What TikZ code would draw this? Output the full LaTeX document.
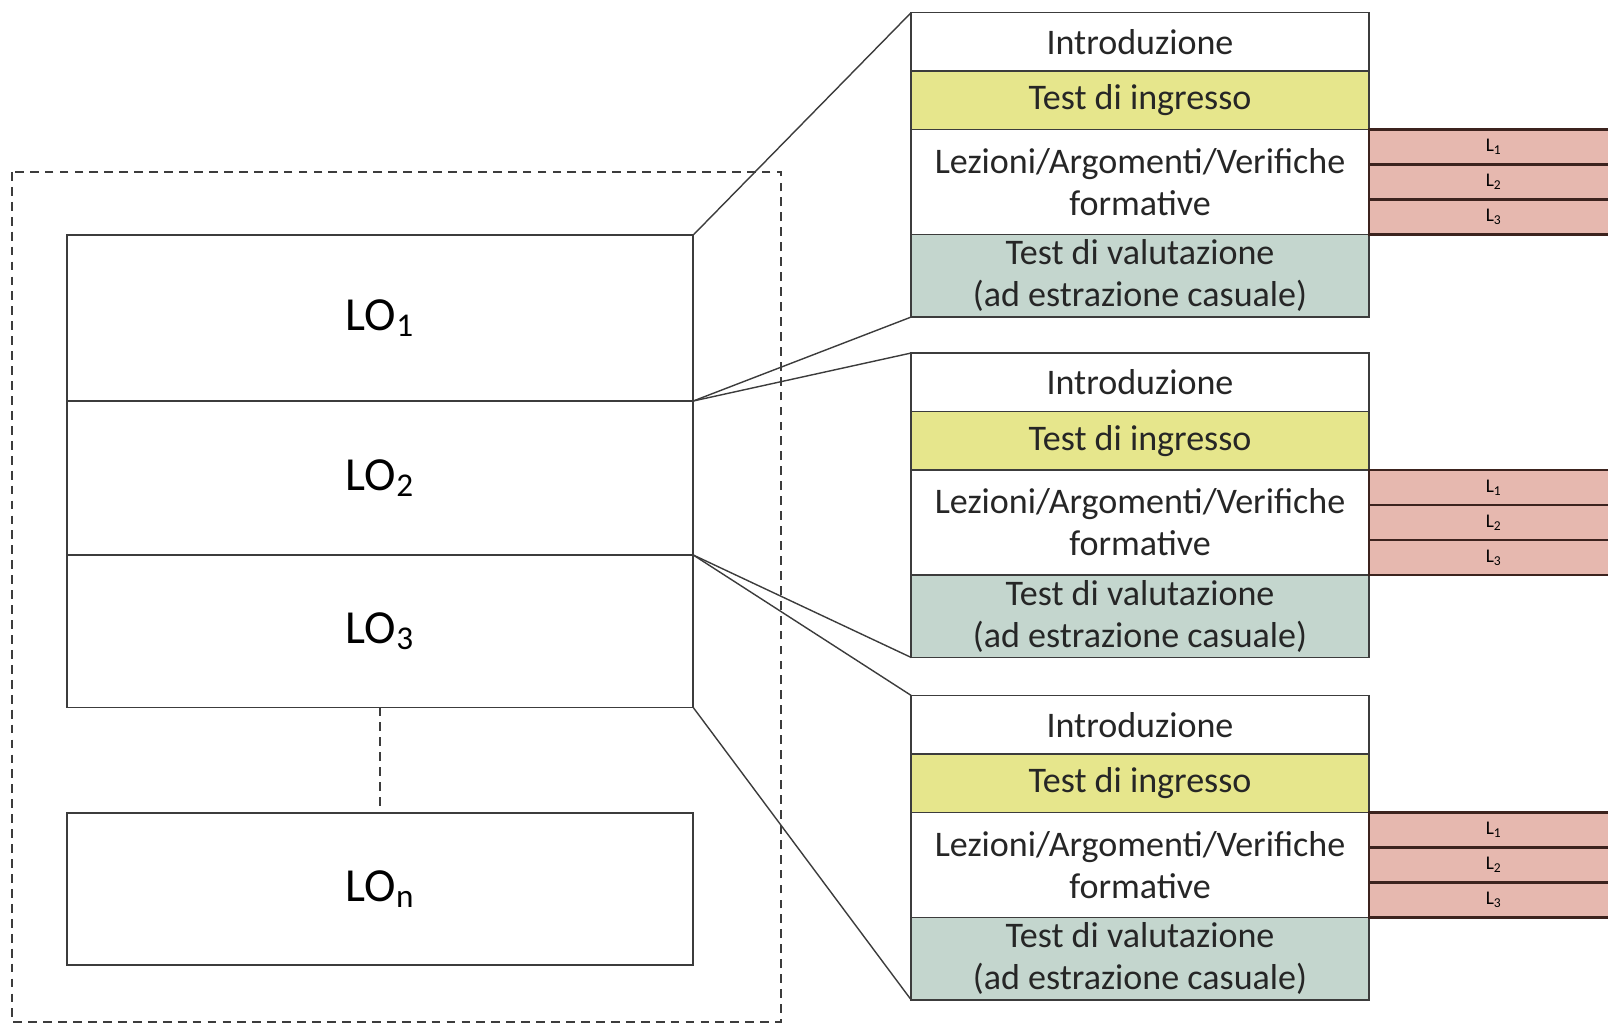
\documentclass[tikz,border=0pt]{standalone}
\usepackage{fontspec}
\setmainfont{Carlito}
\usetikzlibrary{positioning}

\definecolor{ingresso}{RGB}{230,230,140}
\definecolor{valuta}{RGB}{196,214,206}
\definecolor{lezione}{RGB}{230,184,175}
\definecolor{bordo}{RGB}{60,60,60}
\definecolor{bordol}{RGB}{60,35,30}

\tikzset{
    lobox/.style={draw=bordo,line width=1pt,minimum width=12.53cm,inner sep=0,outer sep=0,font=\fontsize{27}{30}\selectfont},
    riga/.style={draw=bordo,line width=1pt,minimum width=9.15cm,inner sep=0,outer sep=0,align=center,text=black!85,font=\fontsize{20.5}{24}\selectfont},
    lbox/.style={draw=bordol,fill=lezione,line width=1.2pt,minimum width=5cm,minimum height=0.7cm,inner sep=0,outer sep=0,font=\fontsize{11}{12}\selectfont},
    link/.style={bordo,line width=0.8pt},
    tratteggio/.style={bordo,line width=1.1pt,dash pattern=on 5pt off 3.5pt}
}

\begin{document}
\begin{tikzpicture}
    \useasboundingbox (0,0) rectangle (32.16,-20.5);
    \draw[tratteggio] (0.24,-3.44) rectangle (15.62,-20.44);

    \node[lobox,minimum height=3.32cm] (lo1) at (7.6,-6.36) {LO\textsubscript{1}};
    \node[lobox,minimum height=3.08cm,below=0pt of lo1] (lo2) {LO\textsubscript{2}};
    \node[lobox,minimum height=3.05cm,below=0pt of lo2] (lo3) {LO\textsubscript{3}};
    \node[lobox,minimum height=3.04cm] (lon) at (7.6,-17.78) {LO\textsubscript{n}};
    \draw[tratteggio] (lo3.south) -- (lon.north);

    \node[riga,minimum height=1.17cm,anchor=north] (intro1) at (22.8,-0.25) {Introduzione};
    \node[riga,minimum height=1.17cm,fill=ingresso,below=0pt of intro1] (ing1) {Test di ingresso};
    \node[riga,minimum height=2.1cm,below=0pt of ing1] (lez1) {Lezioni/Argomenti/Verifiche\\formative};
    \node[riga,minimum height=1.65cm,fill=valuta,below=0pt of lez1] (val1) {Test di valutazione\\(ad estrazione casuale)};
    \node[lbox,anchor=north west] (l11) at (lez1.north east) {L\textsubscript{1}};
    \node[lbox,below=0pt of l11] (l12) {L\textsubscript{2}};
    \node[lbox,below=0pt of l12] (l13) {L\textsubscript{3}};

    \node[riga,minimum height=1.17cm,anchor=north] (intro2) at (22.8,-7.06) {Introduzione};
    \node[riga,minimum height=1.17cm,fill=ingresso,below=0pt of intro2] (ing2) {Test di ingresso};
    \node[riga,minimum height=2.1cm,below=0pt of ing2] (lez2) {Lezioni/Argomenti/Verifiche\\formative};
    \node[riga,minimum height=1.65cm,fill=valuta,below=0pt of lez2] (val2) {Test di valutazione\\(ad estrazione casuale)};
    \node[lbox,anchor=north west] (l21) at (lez2.north east) {L\textsubscript{1}};
    \node[lbox,below=0pt of l21] (l22) {L\textsubscript{2}};
    \node[lbox,below=0pt of l22] (l23) {L\textsubscript{3}};

    \node[riga,minimum height=1.17cm,anchor=north] (intro3) at (22.8,-13.91) {Introduzione};
    \node[riga,minimum height=1.17cm,fill=ingresso,below=0pt of intro3] (ing3) {Test di ingresso};
    \node[riga,minimum height=2.1cm,below=0pt of ing3] (lez3) {Lezioni/Argomenti/Verifiche\\formative};
    \node[riga,minimum height=1.65cm,fill=valuta,below=0pt of lez3] (val3) {Test di valutazione\\(ad estrazione casuale)};
    \node[lbox,anchor=north west] (l31) at (lez3.north east) {L\textsubscript{1}};
    \node[lbox,below=0pt of l31] (l32) {L\textsubscript{2}};
    \node[lbox,below=0pt of l32] (l33) {L\textsubscript{3}};

    \draw[link] (lo1.north east) -- (intro1.north west);
    \draw[link] (lo1.south east) -- (val1.south west);
    \draw[link] (lo1.south east) -- (intro2.north west);
    \draw[link] (lo2.south east) -- (val2.south west);
    \draw[link] (lo2.south east) -- (intro3.north west);
    \draw[link] (lo3.south east) -- (val3.south west);
\end{tikzpicture}
\end{document}
